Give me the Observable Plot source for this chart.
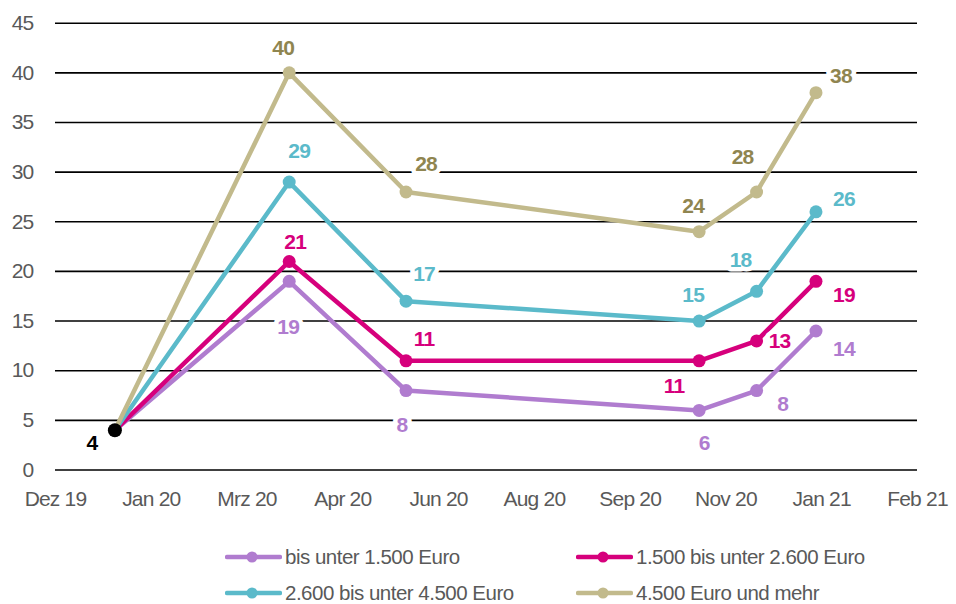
<!DOCTYPE html>
<html>
<head>
<meta charset="utf-8">
<script src="https://cdn.jsdelivr.net/npm/d3@7"></script>
<script src="https://cdn.jsdelivr.net/npm/@observablehq/plot@0.6"></script>
<style>
  html, body { margin: 0; padding: 0; background: #fff; }
  body { width: 956px; height: 604px; overflow: hidden; font-family: "Liberation Sans", Arial, sans-serif; }
  #chart { position: absolute; left: 0; top: 0; }
  #legend { position: absolute; left: 0; top: 520px; width: 956px; height: 84px; }
  .item { position: absolute; display: flex; align-items: center; height: 18px; line-height: 18px; font-size: 20.5px; letter-spacing: -0.5px; color: #595959; white-space: nowrap; }
  .item svg { margin-right: 3px; flex: none; }
</style>
</head>
<body>
<div id="chart"></div>
<div id="legend"></div>
<script>
// ---- data ----
const surveyDates = ["2020-01-01", "2020-04-01", "2020-06-01", "2020-11-01", "2020-12-01", "2021-01-01"];
const seriesNames = ["bis unter 1.500 Euro", "1.500 bis unter 2.600 Euro", "2.600 bis unter 4.500 Euro", "4.500 Euro und mehr"];
const valuesUnter1500 = [4, 19, 8, 6, 8, 14];
const values1500bis2600 = [4, 21, 11, 11, 13, 19];
const values2600bis4500 = [4, 29, 17, 15, 18, 26];
const values4500undMehr = [4, 40, 28, 24, 28, 38];
const startValue = 4;
const yTicks = [0, 5, 10, 15, 20, 25, 30, 35, 40, 45];
const xTickDates = ["2019-12-01", "2020-01-20", "2020-03-10", "2020-04-29", "2020-06-18", "2020-08-07", "2020-09-26", "2020-11-15", "2021-01-04", "2021-02-23"];
const xTickLabels = ["Dez 19", "Jan 20", "Mrz 20", "Apr 20", "Jun 20", "Aug 20", "Sep 20", "Nov 20", "Jan 21", "Feb 21"];

// ---- styling ----
const lineColors = ["#b07ccf", "#d6007c", "#5bbaca", "#c2ba8c"];
const labelColors = ["#b07ccf", "#d6007c", "#5bbaca", "#8f8550"];
// label offsets (dx, dy) per series, per survey date
const labelOffsets = [
  [null, [-1, 46], [-4, 35], [5, 33], [26, 14], [28, 18]],
  [null, [6, -19], [18, -22], [-25, 25], [23, 0], [28, 14]],
  [null, [10, -31], [18, -27], [-6, -26], [-16, -31], [28, -13]],
  [null, [-6, -25], [20, -28], [-6, -25], [-14, -35], [25, -16]]
];

const allValues = [valuesUnter1500, values1500bis2600, values2600bis4500, values4500undMehr];
const parse = d3.utcParse("%Y-%m-%d");
const rows = [];
seriesNames.forEach((name, si) => {
  surveyDates.forEach((d, i) => rows.push({series: name, si, i, date: parse(d), value: allValues[si][i]}));
});
const tickDates = xTickDates.map(parse);
const tickLabelMap = new Map(tickDates.map((d, i) => [+d, xTickLabels[i]]));

const font = '"Liberation Sans", Arial, sans-serif';

const labelMarks = rows.filter(r => labelOffsets[r.si][r.i]).map(r => Plot.text([r], {
  x: "date", y: "value", text: d => String(d.value),
  dx: labelOffsets[r.si][r.i][0], dy: labelOffsets[r.si][r.i][1],
  fill: labelColors[r.si], stroke: "white", strokeWidth: 9, strokeLinejoin: "round",
  fontWeight: "bold", fontSize: 21, textAnchor: "middle", lineAnchor: "middle"
}));

const chart = Plot.plot({
  width: 956,
  height: 520,
  marginLeft: 55,
  marginRight: 39,
  marginTop: 22.7,
  marginBottom: 50.5,
  style: {fontFamily: font, fontSize: "21px", letterSpacing: "-0.8px", color: "#595959", background: "white", overflow: "visible"},
  x: {type: "utc", domain: [tickDates[0], tickDates[tickDates.length - 1]], ticks: tickDates,
      tickFormat: d => tickLabelMap.get(+d), tickSize: 0, tickPadding: 21, label: null},
  y: {domain: [0, 45], ticks: yTicks, tickSize: 0, tickPadding: 22, label: null},
  color: {domain: seriesNames, range: lineColors},
  marks: [
    Plot.ruleY(yTicks, {stroke: "#000", strokeWidth: 1.6}),
    Plot.line(rows, {x: "date", y: "value", z: "series", stroke: "series", strokeWidth: 4.5, strokeLinejoin: "round"}),
    Plot.dot(rows.filter(r => r.i > 0), {x: "date", y: "value", fill: "series", r: 6.5}),
    Plot.dot([{date: parse(surveyDates[0]), value: startValue}], {x: "date", y: "value", fill: "#000", r: 7}),
    Plot.text([{date: parse(surveyDates[0]), value: startValue}], {x: "date", y: "value", text: d => String(d.value),
      dx: -23, dy: 13, fill: "#000", fontWeight: "bold", fontSize: 21, lineAnchor: "middle"}),
    ...labelMarks
  ]
});
document.getElementById("chart").appendChild(chart);

// ---- legend ----
const legendPos = [[225, 28], [576, 28], [225, 64], [576, 64]];
const legendOrder = [0, 1, 2, 3];
const legend = document.getElementById("legend");
legendOrder.forEach((si, k) => {
  const div = document.createElement("div");
  div.className = "item";
  div.style.left = legendPos[k][0] + "px";
  div.style.top = legendPos[k][1] + "px";
  const c = lineColors[si];
  div.innerHTML = `<svg width="57" height="14"><line x1="2" y1="7" x2="55" y2="7" stroke="${c}" stroke-width="4.5" stroke-linecap="round"/><circle cx="27" cy="7" r="5.5" fill="${c}"/></svg><span>${seriesNames[si]}</span>`;
  legend.appendChild(div);
});
</script>
</body>
</html>
